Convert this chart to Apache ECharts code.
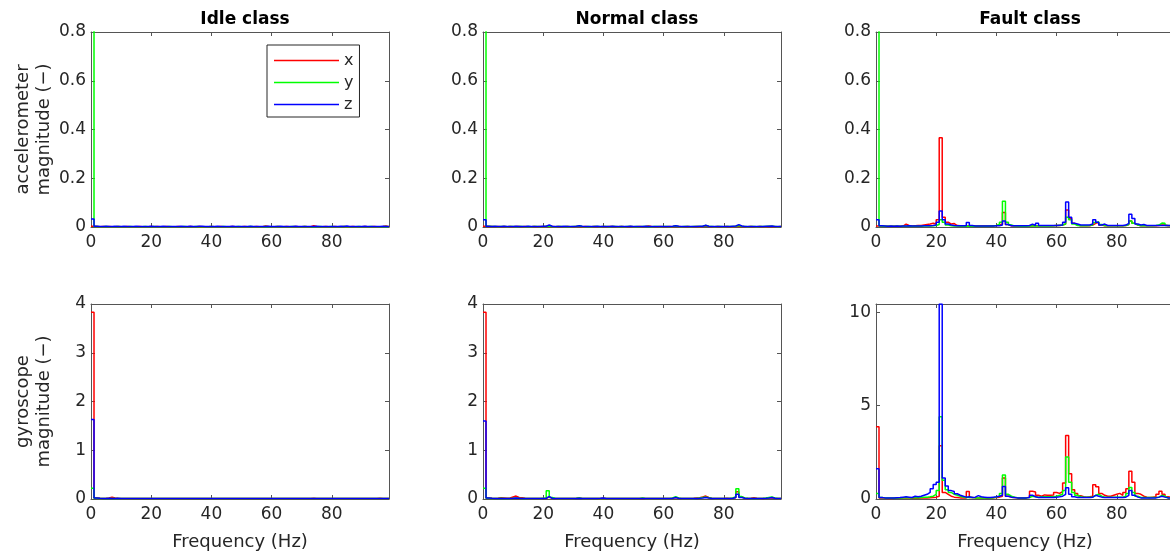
<!DOCTYPE html>
<html>
<head>
<meta charset="utf-8">
<script src="https://cdn.jsdelivr.net/npm/echarts@6/dist/echarts.min.js"></script>
<style>
html,body{margin:0;padding:0;background:#fff;overflow:hidden;}
#c{width:1180px;height:556px;}
</style>
</head>
<body>
<div id="c"></div>
<script>
// ---------------- data ----------------
const freq = [0,1,2,3,4,5,6,7,8,9,10,11,12,13,14,15,16,17,18,19,20,21,22,23,24,25,26,27,28,29,30,31,32,33,34,35,36,37,38,39,40,41,42,43,44,45,46,47,48,49,50,51,52,53,54,55,56,57,58,59,60,61,62,63,64,65,66,67,68,69,70,71,72,73,74,75,76,77,78,79,80,81,82,83,84,85,86,87,88,89,90,91,92,93,94,95,96,97,98,99];
const xTicks = [0, 20, 40, 60, 80];
const classTitles = ['Idle class', 'Normal class', 'Fault class'];
const rowLabels = ['accelerometer\nmagnitude (\u2212)', 'gyroscope\nmagnitude (\u2212)'];
const axisNames = ['x', 'y', 'z'];

// Idle class - accelerometer
const idleAccX = [0.003,0.002,0.001,0.002,0.001,0.002,0.001,0.001,0.002,0.001,
0.001,0.002,0.001,0.001,0.001,0.002,0.001,0.001,0.001,0.002,
0.001,0.002,0.001,0.001,0.002,0.001,0.001,0.001,0.002,0.001,
0.001,0.001,0.002,0.001,0.001,0.002,0.001,0.001,0.001,0.002,
0.001,0.001,0.002,0.001,0.001,0.001,0.002,0.001,0.001,0.001,
0.002,0.001,0.001,0.001,0.002,0.001,0.001,0.004,0.002,0.001,
0.001,0.002,0.001,0.001,0.002,0.001,0.001,0.002,0.001,0.001,
0.002,0.001,0.001,0.005,0.002,0.001,0.001,0.002,0.001,0.001,
0.002,0.001,0.001,0.002,0.001,0.001,0.002,0.001,0.001,0.001,
0.002,0.001,0.001,0.002,0.001,0.001,0.002,0.004,0.001,0.001];
const idleAccY = [0.985,0.002,0.001,0.001,0.002,0.001,0.001,0.001,0.002,0.001,
0.001,0.001,0.002,0.001,0.001,0.001,0.001,0.002,0.001,0.001,
0.002,0.001,0.001,0.001,0.001,0.002,0.001,0.001,0.001,0.001,
0.002,0.001,0.001,0.001,0.002,0.001,0.001,0.001,0.001,0.002,
0.001,0.001,0.001,0.002,0.001,0.001,0.001,0.001,0.002,0.001,
0.001,0.001,0.002,0.001,0.001,0.001,0.001,0.002,0.001,0.001,
0.001,0.002,0.001,0.001,0.001,0.001,0.002,0.001,0.001,0.001,
0.002,0.001,0.001,0.001,0.001,0.002,0.001,0.001,0.001,0.002,
0.001,0.001,0.001,0.002,0.001,0.001,0.001,0.001,0.002,0.001,
0.001,0.001,0.002,0.001,0.001,0.001,0.001,0.002,0.001,0.001];
const idleAccZ = [0.033,0.003,0.002,0.002,0.003,0.002,0.002,0.003,0.002,0.002,
0.003,0.002,0.002,0.002,0.003,0.002,0.002,0.002,0.002,0.003,
0.002,0.002,0.002,0.003,0.002,0.002,0.002,0.002,0.002,0.003,
0.002,0.002,0.003,0.002,0.002,0.003,0.003,0.002,0.002,0.002,
0.002,0.003,0.002,0.002,0.002,0.002,0.003,0.002,0.002,0.002,
0.002,0.002,0.003,0.002,0.002,0.002,0.002,0.002,0.003,0.002,
0.002,0.002,0.003,0.002,0.002,0.002,0.002,0.003,0.002,0.002,
0.002,0.002,0.002,0.002,0.003,0.002,0.002,0.002,0.002,0.002,
0.002,0.002,0.003,0.002,0.004,0.002,0.002,0.002,0.002,0.002,
0.003,0.002,0.002,0.002,0.002,0.002,0.003,0.002,0.002,0.002];

// Idle class - gyroscope
const idleGyrX = [3.83,0.02,0.015,0.012,0.015,0.02,0.035,0.02,0.015,0.012,
0.012,0.01,0.012,0.01,0.012,0.01,0.01,0.012,0.01,0.01,
0.012,0.01,0.01,0.012,0.01,0.01,0.01,0.012,0.01,0.01,
0.01,0.012,0.01,0.01,0.01,0.012,0.01,0.01,0.01,0.012,
0.01,0.01,0.012,0.01,0.01,0.01,0.01,0.012,0.01,0.01,
0.01,0.012,0.01,0.01,0.01,0.01,0.012,0.01,0.01,0.01,
0.012,0.01,0.01,0.01,0.012,0.01,0.01,0.01,0.01,0.012,
0.01,0.01,0.012,0.015,0.01,0.01,0.01,0.012,0.01,0.01,
0.01,0.012,0.01,0.01,0.012,0.01,0.01,0.01,0.012,0.01,
0.01,0.01,0.012,0.01,0.01,0.015,0.01,0.01,0.012,0.01];
const idleGyrY = [0.22,0.015,0.012,0.01,0.012,0.01,0.012,0.01,0.01,0.012,
0.01,0.008,0.01,0.008,0.01,0.008,0.008,0.01,0.008,0.008,
0.01,0.008,0.008,0.01,0.008,0.008,0.008,0.01,0.008,0.008,
0.008,0.01,0.008,0.008,0.008,0.01,0.008,0.008,0.008,0.01,
0.008,0.008,0.01,0.008,0.008,0.008,0.008,0.01,0.008,0.008,
0.008,0.01,0.008,0.008,0.008,0.008,0.01,0.008,0.008,0.008,
0.01,0.008,0.008,0.008,0.01,0.008,0.008,0.008,0.008,0.01,
0.008,0.008,0.01,0.012,0.008,0.008,0.008,0.01,0.008,0.008,
0.008,0.01,0.008,0.008,0.012,0.008,0.008,0.008,0.01,0.008,
0.008,0.008,0.01,0.008,0.008,0.012,0.008,0.008,0.01,0.008];
const idleGyrZ = [1.63,0.02,0.015,0.012,0.012,0.015,0.012,0.012,0.015,0.012,
0.012,0.01,0.012,0.012,0.01,0.012,0.01,0.012,0.01,0.012,
0.01,0.012,0.01,0.01,0.012,0.01,0.012,0.01,0.01,0.012,
0.01,0.01,0.012,0.01,0.01,0.012,0.01,0.01,0.012,0.01,
0.01,0.012,0.01,0.01,0.012,0.01,0.01,0.01,0.012,0.01,
0.01,0.012,0.01,0.01,0.01,0.012,0.01,0.01,0.012,0.01,
0.01,0.01,0.012,0.01,0.01,0.012,0.01,0.01,0.01,0.012,
0.01,0.01,0.012,0.01,0.01,0.01,0.012,0.01,0.01,0.01,
0.012,0.01,0.01,0.01,0.012,0.01,0.01,0.01,0.012,0.01,
0.01,0.012,0.01,0.01,0.01,0.012,0.01,0.01,0.01,0.01];

// Normal class - accelerometer
const normAccX = [0.003,0.002,0.002,0.001,0.002,0.001,0.002,0.001,0.002,0.001,
0.002,0.002,0.001,0.002,0.001,0.001,0.002,0.001,0.002,0.001,
0.002,0.003,0.002,0.001,0.002,0.001,0.001,0.002,0.001,0.001,
0.002,0.002,0.001,0.002,0.001,0.001,0.002,0.001,0.001,0.002,
0.001,0.002,0.002,0.001,0.001,0.002,0.001,0.001,0.002,0.001,
0.001,0.002,0.001,0.002,0.004,0.002,0.001,0.001,0.002,0.001,
0.001,0.002,0.001,0.003,0.002,0.001,0.001,0.002,0.001,0.001,
0.002,0.001,0.002,0.004,0.002,0.001,0.001,0.002,0.001,0.001,
0.002,0.001,0.001,0.002,0.003,0.002,0.001,0.001,0.002,0.001,
0.001,0.002,0.001,0.001,0.002,0.002,0.001,0.001,0.002,0.001];
const normAccY = [0.985,0.003,0.002,0.002,0.001,0.002,0.002,0.001,0.002,0.002,
0.001,0.002,0.002,0.001,0.002,0.001,0.002,0.002,0.001,0.002,
0.002,0.004,0.002,0.001,0.002,0.002,0.001,0.002,0.001,0.002,
0.002,0.004,0.002,0.001,0.002,0.001,0.002,0.002,0.001,0.002,
0.002,0.001,0.002,0.002,0.001,0.002,0.001,0.002,0.002,0.001,
0.002,0.001,0.002,0.002,0.002,0.001,0.002,0.002,0.001,0.002,
0.002,0.001,0.002,0.004,0.002,0.001,0.002,0.002,0.001,0.002,
0.002,0.002,0.003,0.006,0.003,0.002,0.001,0.002,0.002,0.001,
0.002,0.002,0.002,0.003,0.006,0.003,0.002,0.001,0.002,0.002,
0.001,0.002,0.002,0.002,0.003,0.003,0.002,0.001,0.002,0.002];
const normAccZ = [0.03,0.003,0.002,0.003,0.002,0.002,0.003,0.002,0.002,0.002,
0.003,0.002,0.002,0.002,0.003,0.002,0.002,0.002,0.002,0.003,
0.003,0.008,0.003,0.002,0.002,0.002,0.003,0.002,0.002,0.002,
0.003,0.005,0.003,0.002,0.002,0.002,0.002,0.003,0.002,0.002,
0.002,0.002,0.003,0.002,0.002,0.002,0.002,0.002,0.003,0.002,
0.002,0.002,0.002,0.003,0.002,0.002,0.002,0.002,0.002,0.002,
0.002,0.002,0.003,0.005,0.003,0.002,0.002,0.002,0.002,0.002,
0.002,0.003,0.003,0.007,0.003,0.002,0.002,0.002,0.002,0.002,
0.002,0.002,0.003,0.004,0.01,0.004,0.002,0.002,0.002,0.002,
0.002,0.002,0.002,0.003,0.003,0.004,0.002,0.002,0.002,0.002];

// Normal class - gyroscope
const normGyrX = [3.83,0.02,0.015,0.012,0.015,0.025,0.02,0.015,0.02,0.04,
0.06,0.03,0.025,0.015,0.012,0.012,0.01,0.012,0.01,0.012,
0.015,0.04,0.015,0.012,0.01,0.01,0.012,0.01,0.01,0.012,
0.015,0.02,0.012,0.01,0.01,0.012,0.01,0.01,0.012,0.015,
0.012,0.01,0.012,0.01,0.01,0.012,0.01,0.01,0.01,0.012,
0.01,0.012,0.015,0.012,0.01,0.012,0.01,0.01,0.012,0.01,
0.012,0.01,0.015,0.03,0.015,0.012,0.01,0.01,0.012,0.015,
0.02,0.025,0.04,0.06,0.03,0.015,0.012,0.01,0.012,0.012,
0.015,0.012,0.015,0.03,0.15,0.04,0.015,0.012,0.015,0.025,
0.015,0.012,0.012,0.015,0.02,0.02,0.015,0.012,0.012,0.01];
const normGyrY = [0.22,0.015,0.012,0.01,0.012,0.015,0.012,0.01,0.012,0.015,
0.02,0.015,0.012,0.01,0.01,0.01,0.01,0.012,0.01,0.015,
0.02,0.17,0.03,0.015,0.01,0.01,0.01,0.01,0.01,0.012,
0.015,0.02,0.012,0.01,0.01,0.01,0.01,0.01,0.012,0.01,
0.01,0.01,0.012,0.01,0.01,0.01,0.01,0.01,0.01,0.01,
0.01,0.012,0.02,0.012,0.01,0.01,0.01,0.01,0.01,0.01,
0.012,0.012,0.02,0.05,0.02,0.012,0.01,0.01,0.01,0.012,
0.015,0.02,0.03,0.04,0.025,0.015,0.01,0.01,0.01,0.012,
0.012,0.015,0.02,0.05,0.21,0.05,0.02,0.015,0.012,0.012,
0.01,0.012,0.015,0.02,0.03,0.04,0.02,0.012,0.01,0.01];
const normGyrZ = [1.6,0.02,0.015,0.012,0.012,0.012,0.012,0.012,0.012,0.015,
0.02,0.015,0.012,0.01,0.01,0.01,0.01,0.01,0.012,0.012,
0.015,0.05,0.015,0.012,0.01,0.01,0.01,0.01,0.01,0.01,
0.012,0.015,0.012,0.01,0.01,0.01,0.01,0.012,0.015,0.02,
0.012,0.01,0.012,0.01,0.01,0.01,0.01,0.01,0.01,0.01,
0.01,0.01,0.012,0.01,0.01,0.01,0.01,0.01,0.01,0.01,
0.01,0.012,0.015,0.03,0.015,0.01,0.01,0.01,0.01,0.01,
0.012,0.015,0.02,0.03,0.02,0.012,0.01,0.01,0.01,0.01,
0.012,0.012,0.015,0.03,0.1,0.03,0.015,0.012,0.01,0.01,
0.01,0.01,0.012,0.015,0.02,0.03,0.015,0.01,0.01,0.01];

// Fault class - accelerometer
const faultAccX = [0.004,0.003,0.003,0.003,0.003,0.003,0.003,0.003,0.004,0.012,
0.006,0.004,0.005,0.006,0.006,0.008,0.01,0.012,0.015,0.012,
0.03,0.366,0.04,0.02,0.012,0.014,0.006,0.005,0.004,0.004,
0.005,0.004,0.004,0.004,0.004,0.004,0.004,0.004,0.005,0.006,
0.008,0.012,0.06,0.01,0.005,0.004,0.004,0.004,0.004,0.004,
0.004,0.005,0.005,0.005,0.005,0.005,0.005,0.005,0.005,0.006,
0.006,0.008,0.012,0.07,0.035,0.015,0.008,0.005,0.005,0.005,
0.005,0.008,0.015,0.018,0.008,0.005,0.005,0.005,0.005,0.005,
0.005,0.005,0.006,0.01,0.025,0.015,0.008,0.005,0.005,0.005,
0.005,0.005,0.005,0.006,0.008,0.008,0.005,0.005,0.005,0.005];
const faultAccY = [0.985,0.004,0.003,0.003,0.003,0.003,0.003,0.003,0.003,0.003,
0.003,0.003,0.003,0.003,0.003,0.004,0.004,0.004,0.005,0.006,
0.01,0.03,0.02,0.008,0.005,0.004,0.004,0.003,0.003,0.003,
0.004,0.003,0.003,0.003,0.003,0.003,0.003,0.004,0.004,0.006,
0.01,0.02,0.106,0.02,0.008,0.004,0.004,0.003,0.003,0.003,
0.004,0.004,0.004,0.004,0.004,0.004,0.004,0.004,0.005,0.006,
0.006,0.008,0.012,0.04,0.03,0.012,0.006,0.005,0.005,0.005,
0.006,0.008,0.018,0.022,0.01,0.006,0.005,0.005,0.005,0.005,
0.005,0.005,0.006,0.01,0.025,0.015,0.008,0.005,0.005,0.005,
0.005,0.005,0.006,0.008,0.016,0.015,0.006,0.005,0.004,0.004];
const faultAccZ = [0.03,0.005,0.004,0.003,0.004,0.003,0.004,0.003,0.004,0.004,
0.005,0.004,0.004,0.004,0.004,0.005,0.005,0.005,0.006,0.008,
0.02,0.066,0.03,0.012,0.008,0.006,0.005,0.005,0.005,0.005,
0.018,0.006,0.004,0.004,0.004,0.004,0.004,0.004,0.004,0.005,
0.005,0.008,0.025,0.01,0.005,0.005,0.005,0.005,0.005,0.005,
0.006,0.012,0.006,0.015,0.006,0.006,0.006,0.006,0.006,0.006,
0.007,0.008,0.02,0.103,0.04,0.015,0.012,0.008,0.008,0.008,
0.008,0.012,0.03,0.02,0.008,0.012,0.006,0.006,0.006,0.006,
0.006,0.006,0.008,0.015,0.052,0.035,0.012,0.008,0.01,0.006,
0.006,0.006,0.006,0.006,0.006,0.006,0.006,0.006,0.006,0.006];

// Fault class - gyroscope
const faultGyrX = [3.87,0.06,0.04,0.03,0.03,0.04,0.05,0.04,0.05,0.06,
0.05,0.04,0.05,0.04,0.05,0.06,0.05,0.07,0.08,0.1,
0.15,2.85,0.35,0.25,0.15,0.1,0.08,0.06,0.05,0.06,
0.4,0.08,0.06,0.05,0.05,0.05,0.04,0.05,0.06,0.08,
0.1,0.15,1.12,0.15,0.1,0.08,0.06,0.05,0.05,0.06,
0.1,0.42,0.38,0.2,0.15,0.22,0.2,0.2,0.22,0.35,
0.3,0.4,0.85,3.4,1.35,0.5,0.3,0.18,0.12,0.1,
0.12,0.15,0.76,0.65,0.3,0.2,0.15,0.15,0.2,0.25,
0.3,0.2,0.35,0.55,1.48,0.9,0.3,0.25,0.15,0.1,
0.08,0.1,0.12,0.25,0.42,0.25,0.12,0.1,0.08,0.08];
const faultGyrY = [0.3,0.08,0.06,0.05,0.05,0.06,0.06,0.07,0.06,0.08,
0.07,0.06,0.08,0.07,0.08,0.09,0.1,0.12,0.15,0.25,
0.45,4.4,1.0,0.5,0.35,0.25,0.2,0.15,0.1,0.08,
0.1,0.08,0.06,0.06,0.06,0.06,0.06,0.06,0.07,0.1,
0.15,0.3,1.28,0.25,0.15,0.1,0.07,0.06,0.06,0.06,
0.08,0.15,0.12,0.1,0.12,0.12,0.12,0.12,0.12,0.15,
0.2,0.25,0.45,2.25,0.9,0.35,0.2,0.12,0.1,0.1,
0.1,0.1,0.2,0.25,0.15,0.1,0.1,0.1,0.1,0.1,
0.1,0.1,0.15,0.3,0.62,0.35,0.15,0.08,0.08,0.08,
0.08,0.08,0.08,0.1,0.2,0.15,0.06,0.06,0.06,0.06];
const faultGyrZ = [1.62,0.08,0.06,0.05,0.05,0.06,0.07,0.08,0.1,0.12,
0.1,0.08,0.15,0.12,0.15,0.2,0.25,0.35,0.55,0.78,
0.9,10.44,1.12,0.7,0.45,0.4,0.28,0.2,0.15,0.1,
0.12,0.08,0.1,0.18,0.12,0.1,0.08,0.08,0.1,0.12,
0.15,0.2,0.67,0.15,0.1,0.08,0.06,0.06,0.06,0.06,
0.08,0.2,0.12,0.08,0.1,0.08,0.08,0.08,0.08,0.1,
0.12,0.15,0.25,0.6,0.25,0.12,0.08,0.08,0.08,0.08,
0.08,0.1,0.2,0.15,0.1,0.08,0.08,0.08,0.08,0.08,
0.08,0.08,0.1,0.2,0.45,0.2,0.1,0.06,0.06,0.06,
0.06,0.06,0.06,0.1,0.15,0.1,0.06,0.06,0.06,0.06];

// y-axis settings per row / panel
const accYMax = 0.8, accYStep = 0.2;
const gyrYMax = 4, gyrYStep = 1;
const faultGyrYMax = 10.44, faultGyrYStep = 5;

// ---------------- layout ----------------
const FONT = 'DejaVu Sans';
const TXT = '#262626';
const AXC = '#555555';
const colLeft = [91, 483, 876];
const colWidth = 298;
const rowTop = [32, 304];
const rowHeight = 195;
const colors = ['#ff0000', '#00ff00', '#0000ff'];

const panels = [
  {r:0, c:0, d:[idleAccX, idleAccY, idleAccZ], max:accYMax, step:accYStep},
  {r:0, c:1, d:[normAccX, normAccY, normAccZ], max:accYMax, step:accYStep},
  {r:0, c:2, d:[faultAccX, faultAccY, faultAccZ], max:accYMax, step:accYStep},
  {r:1, c:0, d:[idleGyrX, idleGyrY, idleGyrZ], max:gyrYMax, step:gyrYStep},
  {r:1, c:1, d:[normGyrX, normGyrY, normGyrZ], max:gyrYMax, step:gyrYStep},
  {r:1, c:2, d:[faultGyrX, faultGyrY, faultGyrZ], max:faultGyrYMax, step:faultGyrYStep}
];

const grid = [], xAxis = [], yAxis = [], series = [];
const tickStyle = {show:true, inside:true, length:4, lineStyle:{color:AXC, width:1}};
const lineAx = {show:true, onZero:false, lineStyle:{color:AXC, width:1}};

panels.forEach((p, g) => {
  grid.push({left: colLeft[p.c], top: rowTop[p.r], width: colWidth, height: rowHeight, containLabel:false});
  const xFmt = v => (xTicks.indexOf(v) >= 0 ? String(v) : '');
  xAxis.push({
    type:'value', gridIndex:g, position:'bottom', min:0, max:99, interval:20,
    axisLine:lineAx, axisTick:tickStyle, splitLine:{show:false},
    axisLabel:{color:TXT, fontFamily:FONT, fontSize:17, margin:7, formatter:xFmt, hideOverlap:false},
    name: p.r === 1 ? 'Frequency (Hz)' : '', nameLocation:'middle', nameGap:34,
    nameTextStyle:{color:TXT, fontFamily:FONT, fontSize:18}
  });
  xAxis.push({
    type:'value', gridIndex:g, position:'top', min:0, max:99, interval:20,
    axisLine:lineAx, axisTick:tickStyle, axisLabel:{show:false}, splitLine:{show:false}
  });
  const yFmt = v => {
    const k = Math.round(v / p.step);
    return Math.abs(k * p.step - v) < 1e-9 ? String(+(k * p.step).toFixed(2)) : '';
  };
  yAxis.push({
    type:'value', gridIndex:g, position:'left', min:0, max:p.max, interval:p.step,
    axisLine:lineAx, axisTick:tickStyle, splitLine:{show:false},
    axisLabel:{color:TXT, fontFamily:FONT, fontSize:17, margin:5, formatter:yFmt},
    name: p.c === 0 ? rowLabels[p.r] : '', nameLocation:'middle', nameGap:36,
    nameTextStyle:{color:TXT, fontFamily:FONT, fontSize:18, lineHeight:21}
  });
  yAxis.push({
    type:'value', gridIndex:g, position:'right', min:0, max:p.max, interval:p.step,
    axisLine:lineAx, axisTick:tickStyle, axisLabel:{show:false}, splitLine:{show:false}
  });
  p.d.forEach((arr, k) => {
    series.push({
      type:'line', name:axisNames[k], step:'end', symbol:'none', showSymbol:false,
      xAxisIndex:2*g, yAxisIndex:2*g, clip:true, animation:false,
      lineStyle:{color:colors[k], width:1.5}, itemStyle:{color:colors[k]},
      data: freq.map((f, i) => [f, arr[i]])
    });
  });
});

const title = classTitles.map((t, c) => ({
  text:t, left: colLeft[c] + colWidth/2, top: 6, textAlign:'center',
  textStyle:{color:'#000', fontFamily:FONT, fontSize:17, fontWeight:'bold'}
}));

const chart = echarts.init(document.getElementById('c'), null, {renderer:'canvas'});
chart.setOption({
  backgroundColor:'#fff',
  animation:false,
  title: title,
  legend: {
    data: axisNames, orient:'vertical', left:267, top:45,
    icon:'rect', itemWidth:65, itemHeight:1.5, itemGap:3, padding:[6,6,3,7],
    borderColor:'#262626', borderWidth:1, backgroundColor:'#fff',
    textStyle:{color:TXT, fontFamily:FONT, fontSize:16, lineHeight:19}
  },
  grid: grid, xAxis: xAxis, yAxis: yAxis, series: series
});
</script>
</body>
</html>
